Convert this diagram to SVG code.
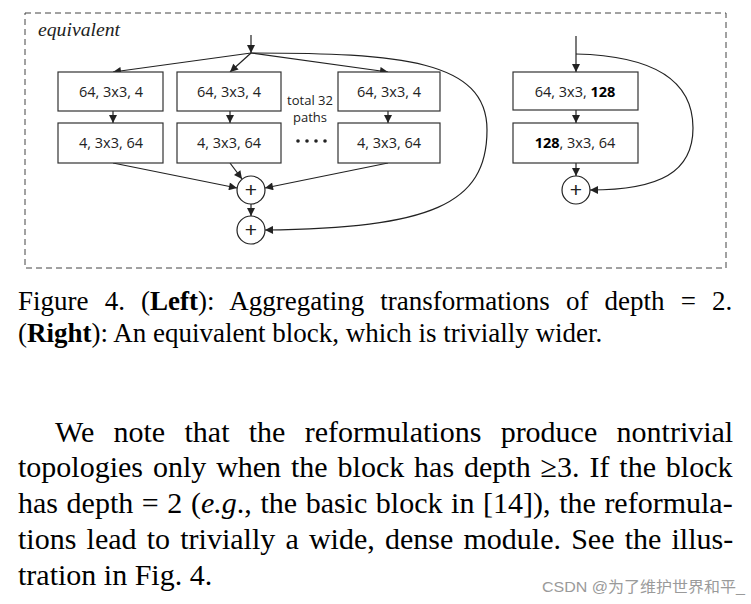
<svg xmlns="http://www.w3.org/2000/svg" width="751" height="604" viewBox="0 0 751 604">
<style>
.box{fill:#fff;stroke:#333;stroke-width:1.2}
.lbl{font-family:"Open Sans","Noto Sans",sans-serif;font-size:14.5px;fill:#222;text-anchor:middle}
.b{font-weight:bold;fill:#000}
.ln{fill:none;stroke:#222;stroke-width:1.2}
.circ{fill:#fff;stroke:#222;stroke-width:1.2}
.plus{font-family:"Liberation Sans",sans-serif;font-size:21px;fill:#222;text-anchor:middle}
.cap{font-family:"Liberation Serif","Times New Roman",serif;font-size:27px;fill:#000}
.par{font-family:"Liberation Serif","Times New Roman",serif;font-size:30px;fill:#000}
.small{font-family:"Open Sans","Noto Sans",sans-serif;font-size:13px;fill:#222;text-anchor:middle}
</style>
<defs>
<marker id="ah" viewBox="0 0 10 10" refX="10" refY="5" markerWidth="9" markerHeight="8" markerUnits="userSpaceOnUse" orient="auto">
<path d="M0,0 L10,5 L0,10 z" fill="#222"/>
</marker>
</defs>
<rect x="25" y="13" width="701" height="255" fill="none" stroke="#444" stroke-width="1" stroke-dasharray="6 4"/>
<text x="38" y="36" font-family="Liberation Serif,serif" font-style="italic" font-size="18" fill="#222" textLength="82" lengthAdjust="spacingAndGlyphs">equivalent</text>

<g id="connectors">
<path class="ln" d="M251,35 L251,53" marker-end="url(#ah)"/>
<path class="ln" d="M251,53 L113,72" marker-end="url(#ah)"/>
<path class="ln" d="M251,53 L230,72" marker-end="url(#ah)"/>
<path class="ln" d="M251,53 L388,72" marker-end="url(#ah)"/>
<path class="ln" d="M113,111 L113,123" marker-end="url(#ah)"/>
<path class="ln" d="M230,111 L230,123" marker-end="url(#ah)"/>
<path class="ln" d="M388,111 L388,123" marker-end="url(#ah)"/>
<path class="ln" d="M113,163 L237,188" marker-end="url(#ah)"/>
<path class="ln" d="M230,163 L242,179" marker-end="url(#ah)"/>
<path class="ln" d="M388,163 L265,188" marker-end="url(#ah)"/>
<path class="ln" d="M251,204 L251,216" marker-end="url(#ah)"/>
<path class="ln" d="M251,53 C400,53 487,60 487,130 C487,205 430,228 265,230" marker-end="url(#ah)"/>
<path class="ln" d="M576,36 L576,72" marker-end="url(#ah)"/>
<path class="ln" d="M576,110 L576,123" marker-end="url(#ah)"/>
<path class="ln" d="M576,163 L576,176" marker-end="url(#ah)"/>
<path class="ln" d="M576,54 C660,56 693,85 693,128 C693,172 660,190 590,190" marker-end="url(#ah)"/>
</g>

<g id="a1"><rect class="box" x="58" y="72" width="105" height="39"/><text class="lbl" x="111" y="97">64, 3x3, 4</text></g>
<g id="a2"><rect class="box" x="177" y="72" width="104" height="39"/><text class="lbl" x="229" y="97">64, 3x3, 4</text></g>
<g id="a3"><rect class="box" x="338" y="72" width="102" height="39"/><text class="lbl" x="389" y="97">64, 3x3, 4</text></g>
<g id="b1"><rect class="box" x="58" y="123" width="105" height="40"/><text class="lbl" x="111" y="148">4, 3x3, 64</text></g>
<g id="b2"><rect class="box" x="177" y="123" width="104" height="40"/><text class="lbl" x="229" y="148">4, 3x3, 64</text></g>
<g id="b3"><rect class="box" x="338" y="123" width="102" height="40"/><text class="lbl" x="389" y="148">4, 3x3, 64</text></g>
<g id="paths-note"><text class="small" x="310" y="105">total 32</text><text class="small" x="310" y="122">paths</text>
<g fill="#222"><circle cx="298" cy="141" r="1.8"/><circle cx="307" cy="141" r="1.8"/><circle cx="316" cy="141" r="1.8"/><circle cx="325" cy="141" r="1.8"/></g></g>
<g id="sum1"><circle class="circ" cx="251" cy="190" r="14"/><text class="plus" x="251" y="197">+</text></g>
<g id="sum2"><circle class="circ" cx="251" cy="230" r="14"/><text class="plus" x="251" y="237">+</text></g>

<g id="r1"><rect class="box" x="513" y="72" width="125" height="38"/><text class="lbl" x="575" y="97">64, 3x3, <tspan class="b">128</tspan></text></g>
<g id="r2"><rect class="box" x="513" y="123" width="125" height="40"/><text class="lbl" x="575" y="148"><tspan class="b">128</tspan>, 3x3, 64</text></g>
<g id="rsum"><circle class="circ" cx="576" cy="190" r="14"/><text class="plus" x="576" y="197">+</text></g>

<text class="cap" x="18" y="310" word-spacing="9.4">Figure 4. (<tspan font-weight="bold">Left</tspan>):  Aggregating transformations of depth = 2.</text>
<text class="cap" x="18" y="342">(<tspan font-weight="bold">Right</tspan>): An equivalent block, which is trivially wider.</text>

<text class="par" x="55" y="442" word-spacing="11.8">We note that the reformulations produce nontrivial</text>
<text class="par" x="18" y="477" word-spacing="2.4">topologies only when the block has depth ≥3.  If the block</text>
<text class="par" x="18" y="513" word-spacing="1.1">has depth = 2 (<tspan font-style="italic">e.g</tspan>., the basic block in [14]), the reformula-</text>
<text class="par" x="18" y="549" word-spacing="2.7">tions lead to trivially a wide, dense module.  See the illus-</text>
<text class="par" x="18" y="585">tration in Fig. 4.</text>

<text x="542" y="592" font-family="Liberation Sans,Noto Sans CJK SC,sans-serif" font-size="15" fill="#9a9a9a" textLength="203" lengthAdjust="spacingAndGlyphs">CSDN @为了维护世界和平_</text>
</svg>
